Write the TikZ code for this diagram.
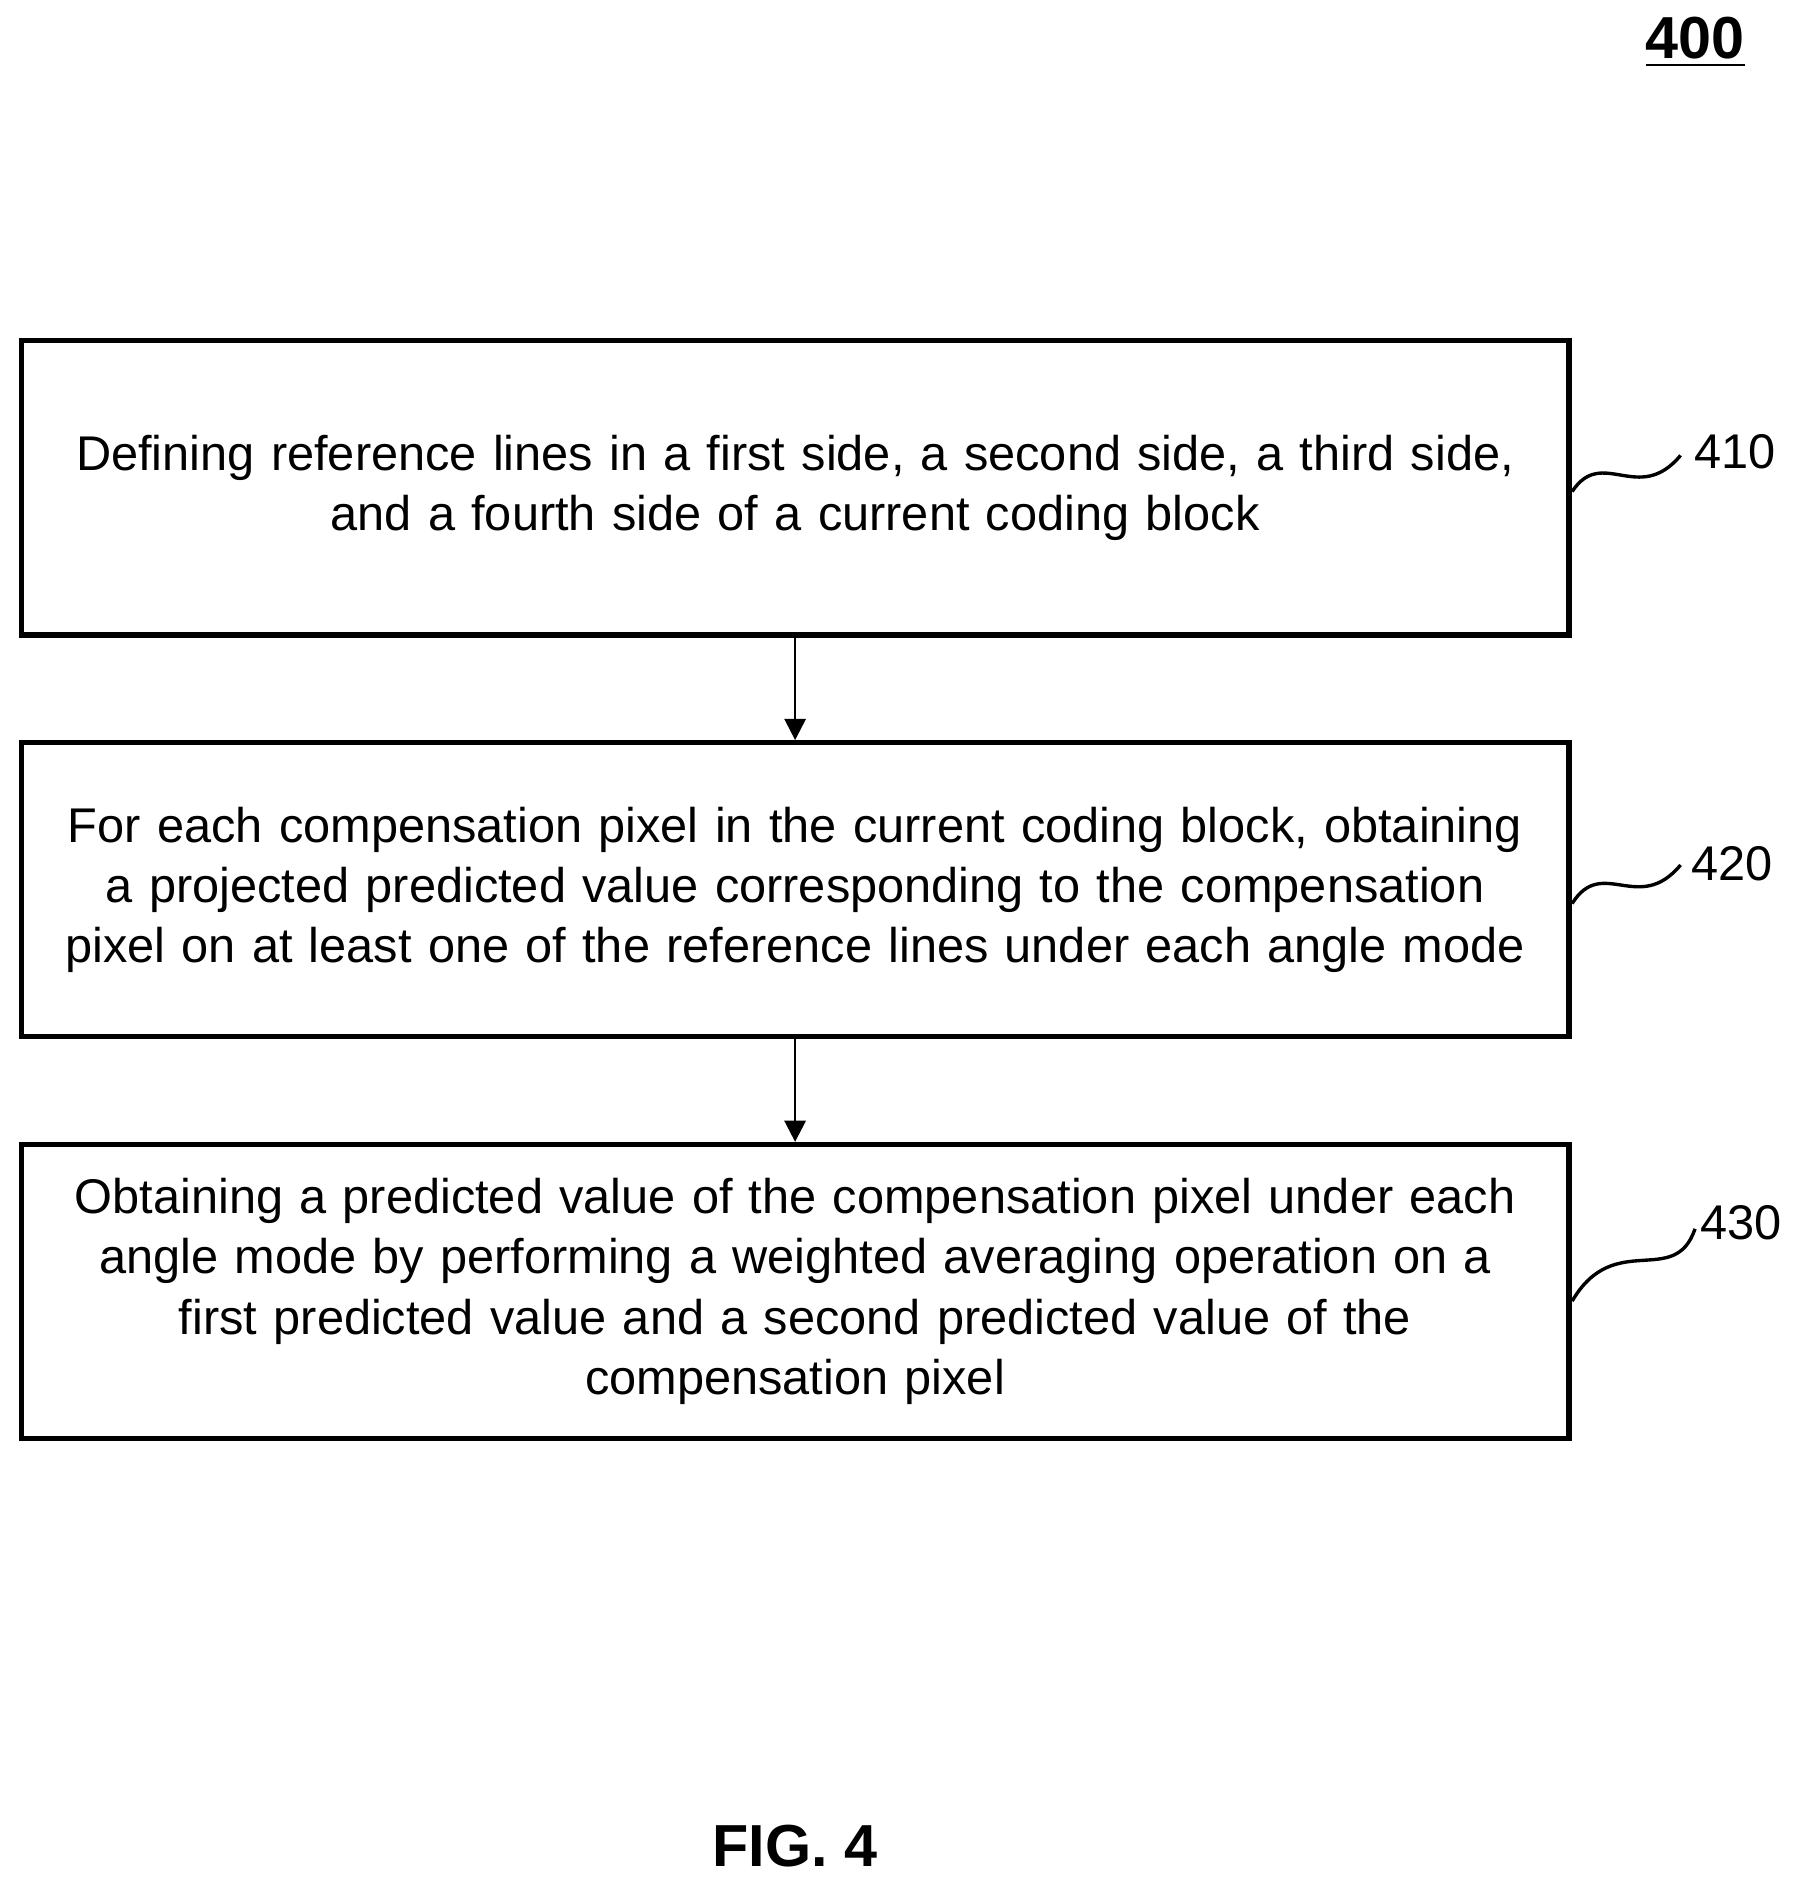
\documentclass[tikz,border=0pt]{standalone}
\usepackage{fontspec}
\setmainfont{Liberation Sans}
\usetikzlibrary{arrows.meta}
\begin{document}
\begin{tikzpicture}[x=0.01cm,y=-0.01cm,
  box/.style={draw,line width=1.2pt,minimum width=12.84cm,minimum height=2.44cm,align=center,font=\fontsize{11.5}{14.2}\selectfont,text width=12.5cm},
  lab/.style={font=\fontsize{11.5}{12}\selectfont},
  arr/.style={-{Triangle[length=5pt,width=5pt]},line width=0.6pt},
  sq/.style={line width=0.8pt}]
\useasboundingbox (0,0) rectangle (1500,1573);
\node[box] (b1) at (660,405) {Defining reference lines in a first side, a second side, a third side,\\ and a fourth side of a current coding block};
\node[box] (b2) at (660,738.5) {For each compensation pixel in the current coding block, obtaining\\ a projected predicted value corresponding to the compensation\\ pixel on at least one of the reference lines under each angle mode};
\node[box] (b3) at (660,1072) {Obtaining a predicted value of the compensation pixel under each\\ angle mode by performing a weighted averaging operation on a\\ first predicted value and a second predicted value of the\\ compensation pixel};
\draw[arr] (b1) -- (b2);
\draw[arr] (b2) -- (b3);
\node[lab] (l1) at (1440,375) {410};
\node[lab] (l2) at (1438,717) {420};
\node[lab] (l3) at (1445,1015) {430};
\coordinate (s1) at (1305,408);
\coordinate (s2) at (1305,750);
\coordinate (s3) at (1305,1080);
\draw[sq] (s1) .. controls (1330,370) and (1360,420) .. (1395,378);
\draw[sq] (s2) .. controls (1330,710) and (1360,760) .. (1395,718);
\draw[sq] (s3) .. controls (1340,1020) and (1390,1070) .. (1407,1020);
\node[font=\fontsize{14}{16}\selectfont\bfseries] (n400) at (1407,35) {\underline{400}};
\node[font=\fontsize{14}{16}\selectfont\bfseries] (fig) at (660,1532) {FIG. 4};
\end{tikzpicture}
\end{document}
